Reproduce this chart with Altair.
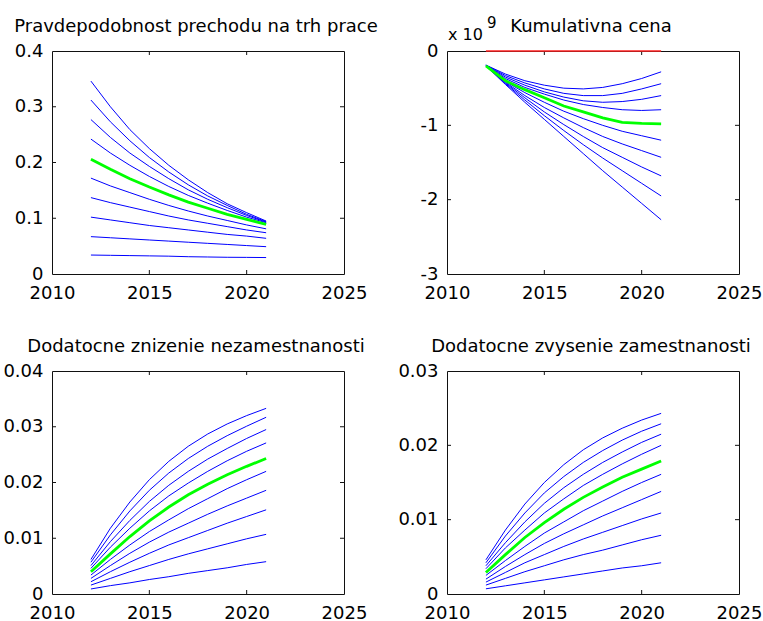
import altair as alt
import pandas as pd

years = [2012, 2013, 2014, 2015, 2016, 2017, 2018, 2019, 2020, 2021]

titles = [
    "Pravdepodobnost prechodu na trh prace",
    "Kumulativna cena",
    "Dodatocne znizenie nezamestnanosti",
    "Dodatocne zvysenie zamestnanosti",
]

# series ordered top -> bottom; index 4 is the highlighted (green) series
prob_series = [
    [0.346, 0.300, 0.259, 0.225, 0.195, 0.169, 0.146, 0.126, 0.110, 0.095],
    [0.312, 0.273, 0.239, 0.209, 0.183, 0.160, 0.140, 0.123, 0.107, 0.094],
    [0.277, 0.245, 0.217, 0.193, 0.171, 0.151, 0.134, 0.119, 0.105, 0.093],
    [0.242, 0.217, 0.195, 0.175, 0.157, 0.141, 0.127, 0.114, 0.102, 0.092],
    [0.206, 0.188, 0.171, 0.156, 0.142, 0.129, 0.118, 0.107, 0.098, 0.089],
    [0.172, 0.158, 0.146, 0.134, 0.123, 0.113, 0.104, 0.096, 0.088, 0.081],
    [0.137, 0.128, 0.120, 0.112, 0.104, 0.097, 0.091, 0.085, 0.079, 0.074],
    [0.102, 0.097, 0.092, 0.087, 0.083, 0.079, 0.075, 0.071, 0.068, 0.064],
    [0.067, 0.065, 0.063, 0.061, 0.059, 0.057, 0.055, 0.053, 0.051, 0.049],
    [0.034, 0.0335, 0.033, 0.0325, 0.032, 0.031, 0.0305, 0.030, 0.0298, 0.0295],
]

# cumulative cost, in units of 10^9
cost_series = [
    [-0.19, -0.31, -0.40, -0.46, -0.50, -0.51, -0.49, -0.44, -0.37, -0.28],
    [-0.19, -0.33, -0.43, -0.51, -0.57, -0.60, -0.60, -0.57, -0.51, -0.44],
    [-0.19, -0.35, -0.46, -0.55, -0.62, -0.67, -0.69, -0.68, -0.65, -0.60],
    [-0.19, -0.37, -0.49, -0.58, -0.66, -0.72, -0.76, -0.79, -0.80, -0.79],
    [-0.20, -0.40, -0.52, -0.63, -0.74, -0.82, -0.90, -0.96, -0.975, -0.98],
    [-0.20, -0.41, -0.56, -0.69, -0.81, -0.91, -1.00, -1.08, -1.14, -1.20],
    [-0.20, -0.42, -0.60, -0.76, -0.90, -1.03, -1.15, -1.25, -1.34, -1.43],
    [-0.20, -0.43, -0.63, -0.82, -0.99, -1.15, -1.30, -1.43, -1.56, -1.68],
    [-0.20, -0.44, -0.66, -0.87, -1.07, -1.26, -1.44, -1.61, -1.78, -1.95],
    [-0.20, -0.45, -0.69, -0.92, -1.15, -1.38, -1.61, -1.83, -2.05, -2.27],
]
cost_zero = [0, 0, 0, 0, 0, 0, 0, 0, 0, 0]

unemp_series = [
    [0.0062, 0.0118, 0.0165, 0.0205, 0.0238, 0.0265, 0.0287, 0.0305, 0.0320, 0.0333],
    [0.0057, 0.0106, 0.0149, 0.0186, 0.0217, 0.0243, 0.0265, 0.0284, 0.0301, 0.0317],
    [0.0051, 0.0094, 0.0132, 0.0166, 0.0195, 0.0220, 0.0242, 0.0261, 0.0279, 0.0295],
    [0.0046, 0.0084, 0.0118, 0.0149, 0.0176, 0.0199, 0.0220, 0.0239, 0.0256, 0.0271],
    [0.0040, 0.0072, 0.0103, 0.0131, 0.0156, 0.0178, 0.0197, 0.0214, 0.0229, 0.0243],
    [0.0034, 0.0062, 0.0088, 0.0112, 0.0133, 0.0153, 0.0171, 0.0189, 0.0205, 0.0220],
    [0.0028, 0.0051, 0.0073, 0.0093, 0.0111, 0.0127, 0.0143, 0.0158, 0.0172, 0.0186],
    [0.0022, 0.0040, 0.0057, 0.0073, 0.0088, 0.0101, 0.0114, 0.0127, 0.0139, 0.0151],
    [0.0016, 0.0028, 0.0040, 0.0051, 0.0062, 0.0072, 0.0081, 0.0090, 0.0099, 0.0107],
    [0.0009, 0.0015, 0.0020, 0.0026, 0.0031, 0.0037, 0.0042, 0.0047, 0.0053, 0.0058],
]

emp_series = [
    [0.0046, 0.0086, 0.0121, 0.0150, 0.0174, 0.0194, 0.0210, 0.0223, 0.0234, 0.0243],
    [0.0042, 0.0078, 0.0109, 0.0136, 0.0158, 0.0177, 0.0193, 0.0207, 0.0219, 0.0229],
    [0.0038, 0.0069, 0.0097, 0.0122, 0.0143, 0.0161, 0.0177, 0.0191, 0.0204, 0.0215],
    [0.0034, 0.0062, 0.0086, 0.0109, 0.0128, 0.0146, 0.0161, 0.0175, 0.0188, 0.0200],
    [0.0029, 0.0053, 0.0076, 0.0096, 0.0114, 0.0130, 0.0144, 0.0157, 0.0168, 0.0179],
    [0.0025, 0.0045, 0.0064, 0.0082, 0.0097, 0.0112, 0.0125, 0.0138, 0.0150, 0.0161],
    [0.0020, 0.0037, 0.0053, 0.0068, 0.0081, 0.0093, 0.0105, 0.0116, 0.0127, 0.0138],
    [0.0016, 0.0029, 0.0042, 0.0053, 0.0064, 0.0074, 0.0083, 0.0092, 0.0101, 0.0109],
    [0.0012, 0.0021, 0.0030, 0.0038, 0.0046, 0.0053, 0.0059, 0.0066, 0.0073, 0.0079],
    [0.0007, 0.0011, 0.0015, 0.0019, 0.0023, 0.0027, 0.0031, 0.0035, 0.0038, 0.0042],
]
green_index = 4

x_ticks = [2010, 2015, 2020, 2025]
y_ticks = [
    [0, 0.1, 0.2, 0.3, 0.4],
    [-3, -2, -1, 0],
    [0, 0.01, 0.02, 0.03, 0.04],
    [0, 0.01, 0.02, 0.03],
]

W, H = 292, 223
TICK = 4
FONT = "DejaVu Sans"
BLUE = "#0000ff"
GREEN = "#00ff00"
FRAME = "#111111"


def long_frame(series, keep):
    rows = []
    for i, s in enumerate(series):
        if keep(i):
            for yr, v in zip(years, s):
                rows.append({"year": yr, "value": v, "s": i})
    return pd.DataFrame(rows)


def panel(series, title, yt, extra=None):
    xs = alt.Scale(domain=[x_ticks[0], x_ticks[-1]], nice=False, zero=False)
    ys = alt.Scale(domain=[yt[0], yt[-1]], nice=False, zero=False)
    if yt[0] < 0:
        lab = "toString(datum.value)"
    else:
        lab = "datum.value == 0 ? '0' : format(datum.value, '.2~f')"
    xaxis = alt.Axis(values=x_ticks, format="d", title=None, labelFlush=False,
                     labelOverlap=False, labelBound=False, domain=False, ticks=False,
                     grid=False, labelFont=FONT, labelFontSize=18, labelColor="black",
                     labelPadding=10)
    yaxis = alt.Axis(values=yt, labelExpr=lab, title=None, labelFlush=False,
                     labelOverlap=False, labelBound=False, domain=False, ticks=False,
                     grid=False, labelFont=FONT, labelFontSize=18, labelColor="black",
                     labelPadding=9)

    blue_df = long_frame(series, lambda i: i != green_index)
    green_df = long_frame(series, lambda i: i == green_index)

    blue = alt.Chart(blue_df).mark_line(color=BLUE, strokeWidth=1).encode(
        x=alt.X("year:Q", scale=xs, axis=xaxis),
        y=alt.Y("value:Q", scale=ys, axis=yaxis),
        detail="s:N",
    )
    green = alt.Chart(green_df).mark_line(color=GREEN, strokeWidth=2.8).encode(
        x=alt.X("year:Q"),
        y=alt.Y("value:Q"),
    )

    xt = pd.DataFrame({"year": x_ticks[1:-1]})
    yv = pd.DataFrame({"value": yt[1:-1]})
    tb = alt.Chart(xt).mark_rule(color=FRAME, strokeWidth=1).encode(
        x=alt.X("year:Q"), y=alt.value(H), y2=alt.value(H - TICK))
    tt = alt.Chart(xt).mark_rule(color=FRAME, strokeWidth=1).encode(
        x=alt.X("year:Q"), y=alt.value(0), y2=alt.value(TICK))
    tl = alt.Chart(yv).mark_rule(color=FRAME, strokeWidth=1).encode(
        y=alt.Y("value:Q"), x=alt.value(0), x2=alt.value(TICK))
    tr = alt.Chart(yv).mark_rule(color=FRAME, strokeWidth=1).encode(
        y=alt.Y("value:Q"), x=alt.value(W), x2=alt.value(W - TICK))

    ttl = alt.Chart(pd.DataFrame({"t": [title]})).mark_text(
        font=FONT, fontSize=18, color="black", align="center", baseline="alphabetic"
    ).encode(text="t:N", x=alt.value(W / 2 - 2), y=alt.value(-19))

    layers = [blue, tb, tt, tl, tr, green, ttl]
    if extra is not None:
        layers += extra()
    return alt.layer(*layers).properties(width=W, height=H)


def cost_extra():
    red = alt.Chart(pd.DataFrame({"year": years, "value": cost_zero})).mark_line(
        color="#ff2020", strokeWidth=1.6).encode(
        x=alt.X("year:Q"), y=alt.Y("value:Q"))
    mult = alt.Chart(pd.DataFrame({"t": ["x 10"]})).mark_text(
        font=FONT, fontSize=16, color="black", align="left", baseline="alphabetic"
    ).encode(text="t:N", x=alt.value(1), y=alt.value(-11))
    expo = alt.Chart(pd.DataFrame({"t": ["9"]})).mark_text(
        font=FONT, fontSize=15, color="black", align="left", baseline="alphabetic"
    ).encode(text="t:N", x=alt.value(40), y=alt.value(-23))
    return [red, mult, expo]


p1 = panel(prob_series, titles[0], y_ticks[0])
p2 = panel(cost_series, titles[1], y_ticks[1], extra=cost_extra)
p3 = panel(unemp_series, titles[2], y_ticks[2])
p4 = panel(emp_series, titles[3], y_ticks[3])

chart = alt.concat(
    p1, p2, p3, p4, columns=2,
    spacing=alt.RowColnumber(row=97, column=103), bounds="flush",
).properties(
    autosize=alt.AutoSizeParams(type="none"),
    padding={"left": 52, "top": 51, "right": 763 - 52, "bottom": 621 - 51},
    background="white",
).configure_view(
    stroke=FRAME, strokeWidth=1
)

chart.save("out.html", embed_options={"renderer": "svg", "actions": False})
